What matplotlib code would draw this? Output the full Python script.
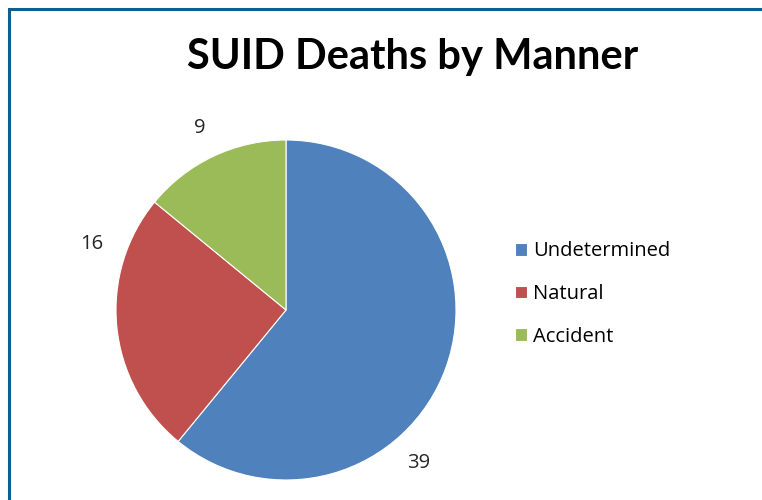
import matplotlib
matplotlib.use("Agg")
import matplotlib.pyplot as plt
from matplotlib.patches import Rectangle

# data
categories = ["Undetermined", "Natural", "Accident"]
deaths = [39, 16, 9]
colors = ["#4F81BD", "#C0504D", "#9BBB59"]

# label positions (pie data units, radius = 1) - Excel "best fit" style
label_pos = [(0.78, -0.90), (-1.14, 0.39), (-0.51, 1.07)]

W, H = 762, 500
fig = plt.figure(figsize=(W / 100, H / 100), dpi=100)
fig.patch.set_facecolor("white")

# outer chart border (runs off right / bottom edges)
fig.patches.append(Rectangle((9 / W, -0.05), 1.1, 1 - 8.5 / H + 0.05,
                             transform=fig.transFigure, fill=False,
                             edgecolor="#0E5E8E", lw=2.2))

fig.text(413 / W, 1 - 57 / H, "SUID Deaths by Manner", ha="center", va="center",
         fontsize=30, fontweight="bold", family="Lato")

# pie: centre (286, 310), radius 170 px
cx, cy, r = 286, 310, 170
ax = fig.add_axes([(cx - r) / W, 1 - (cy + r) / H, 2 * r / W, 2 * r / H])
wedges, _ = ax.pie(deaths, colors=colors, startangle=90, counterclock=False,
                   radius=1, wedgeprops=dict(edgecolor="white", linewidth=0.8))
ax.set_xlim(-1, 1)
ax.set_ylim(-1, 1)
ax.set_aspect("equal")
ax.axis("off")

for (x, y), v in zip(label_pos, deaths):
    ax.text(x, y, str(v), ha="center", va="center", fontsize=14.5,
            family="Open Sans", color="#262626", clip_on=False)

leg = fig.legend(wedges, categories, loc="center left",
                 bbox_to_anchor=(497 / W, 1 - 294 / H), frameon=False,
                 prop=dict(family="Open Sans", size=14.5), handlelength=0.6,
                 handleheight=0.6, handletextpad=0.3, labelspacing=1.12)

fig.savefig("out.png", dpi=100)
